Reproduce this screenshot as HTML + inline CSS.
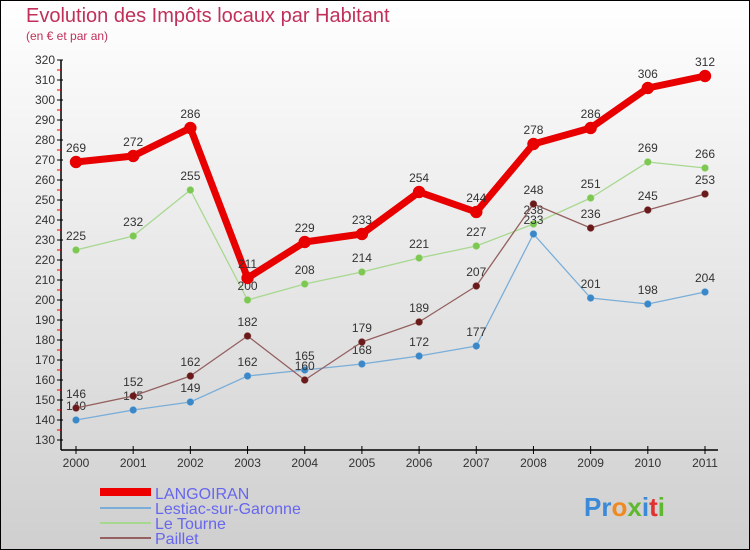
<!DOCTYPE html>
<html><head><meta charset="utf-8"><style>
body{margin:0;width:750px;height:550px;overflow:hidden}
svg{display:block;font-family:"Liberation Sans",sans-serif}
</style></head><body>
<svg id="c" width="750" height="550">
<defs><linearGradient id="bg" x1="0" y1="0" x2="0" y2="1"><stop offset="0" stop-color="#ffffff"/><stop offset="1" stop-color="#cfcfcf"/></linearGradient></defs>
<rect x="0.5" y="0.5" width="749" height="549" fill="url(#bg)" stroke="#000"/>
<text x="26" y="22" font-size="20" fill="#c0305a">Evolution des Impôts locaux par Habitant</text>
<text x="26" y="40" font-size="12" fill="#c0305a">(en € et par an)</text>
<g id="axes"></g><g id="series"></g>
<g font-size="16" fill="#6666ee">
<line x1="100" y1="492" x2="151" y2="492" stroke="#e00" stroke-width="8"/>
<text x="155" y="499">LANGOIRAN</text>
<line x1="100" y1="508" x2="151" y2="508" stroke="#7aaed8" stroke-width="2"/>
<text x="155" y="514">Lestiac-sur-Garonne</text>
<line x1="100" y1="523" x2="151" y2="523" stroke="#a8d890" stroke-width="2"/>
<text x="155" y="529">Le Tourne</text>
<line x1="100" y1="538" x2="151" y2="538" stroke="#946060" stroke-width="2"/>
<text x="155" y="544">Paillet</text>
</g>
<text x="584" y="516" font-size="26" font-weight="bold"><tspan fill="#3a8ad8">Pr</tspan><tspan fill="#f08a20">o</tspan><tspan fill="#60b830">x</tspan><tspan fill="#3a8ad8">i</tspan><tspan fill="#e03030">t</tspan><tspan fill="#60b830">i</tspan></text>
</svg>
<script>
const years=["2000","2001","2002","2003","2004","2005","2006","2007","2008","2009","2010","2011"];
const yTicks=[130,140,150,160,170,180,190,200,210,220,230,240,250,260,270,280,290,300,310,320];
const langoiran=[269,272,286,211,229,233,254,244,278,286,306,312];
const lestiac=[140,145,149,162,165,168,172,177,233,201,198,204];
const leTourne=[225,232,255,200,208,214,221,227,238,251,269,266];
const paillet=[146,152,162,182,160,179,189,207,248,236,245,253];
const NS="http://www.w3.org/2000/svg";
function X(i){return 76+i*(705-76)/11;}
function Y(v){return 440-(v-130)*2;}
function mk(t,a,p){const e=document.createElementNS(NS,t);for(const k in a)e.setAttribute(k,a[k]);p.appendChild(e);return e;}
const ax=document.getElementById('axes');
mk('line',{x1:61,y1:60,x2:61,y2:450,stroke:'#000','stroke-width':1.5},ax);
mk('line',{x1:61,y1:450,x2:718,y2:450,stroke:'#000','stroke-width':1.5},ax);


yTicks.forEach((v,i)=>{
 mk('line',{x1:57,y1:Y(v),x2:63,y2:Y(v),stroke:'#000'},ax);
 if(i<yTicks.length-1)mk('line',{x1:57,y1:Y(v+5),x2:61,y2:Y(v+5),stroke:'#e00'},ax);
 const t=mk('text',{x:55,y:Y(v)+4,'font-size':12,fill:'#333','text-anchor':'end'},ax);t.textContent=v;
 
 
});
years.forEach((y,i)=>{
 mk('line',{x1:X(i),y1:446,x2:X(i),y2:454,stroke:'#000'},ax);
 const t=mk('text',{x:X(i),y:467,'font-size':12,fill:'#333','text-anchor':'middle'},ax);t.textContent=y;
 
 
});
const sg=document.getElementById('series');
function draw(data,name,line,dot,w,r){
 const g=mk('g',{},sg);
 
 
 mk('polyline',{points:data.map((v,i)=>X(i)+','+Y(v)).join(' '),fill:'none',stroke:line,'stroke-width':w,'stroke-linejoin':'round'},g);
 data.forEach((v,i)=>{
  const c=mk('circle',{cx:X(i),cy:Y(v),r:r,fill:dot,stroke:line,'stroke-width':0.5},g);
  
  
  const t=mk('text',{x:X(i),y:Y(v)-10,'font-size':12,fill:'#333','text-anchor':'middle'},g);t.textContent=v;
  
  
 });
}
draw(leTourne,'le-tourne','#a8d890','#7cc850',1.3,3.5);
draw(lestiac,'lestiac','#7aaed8','#3a88c8',1.3,3.5);
draw(paillet,'paillet','#946060','#6a1a1a',1.3,3.5);
draw(langoiran,'langoiran','#e80000','#e80000',7,6);
</script>
</body></html>
